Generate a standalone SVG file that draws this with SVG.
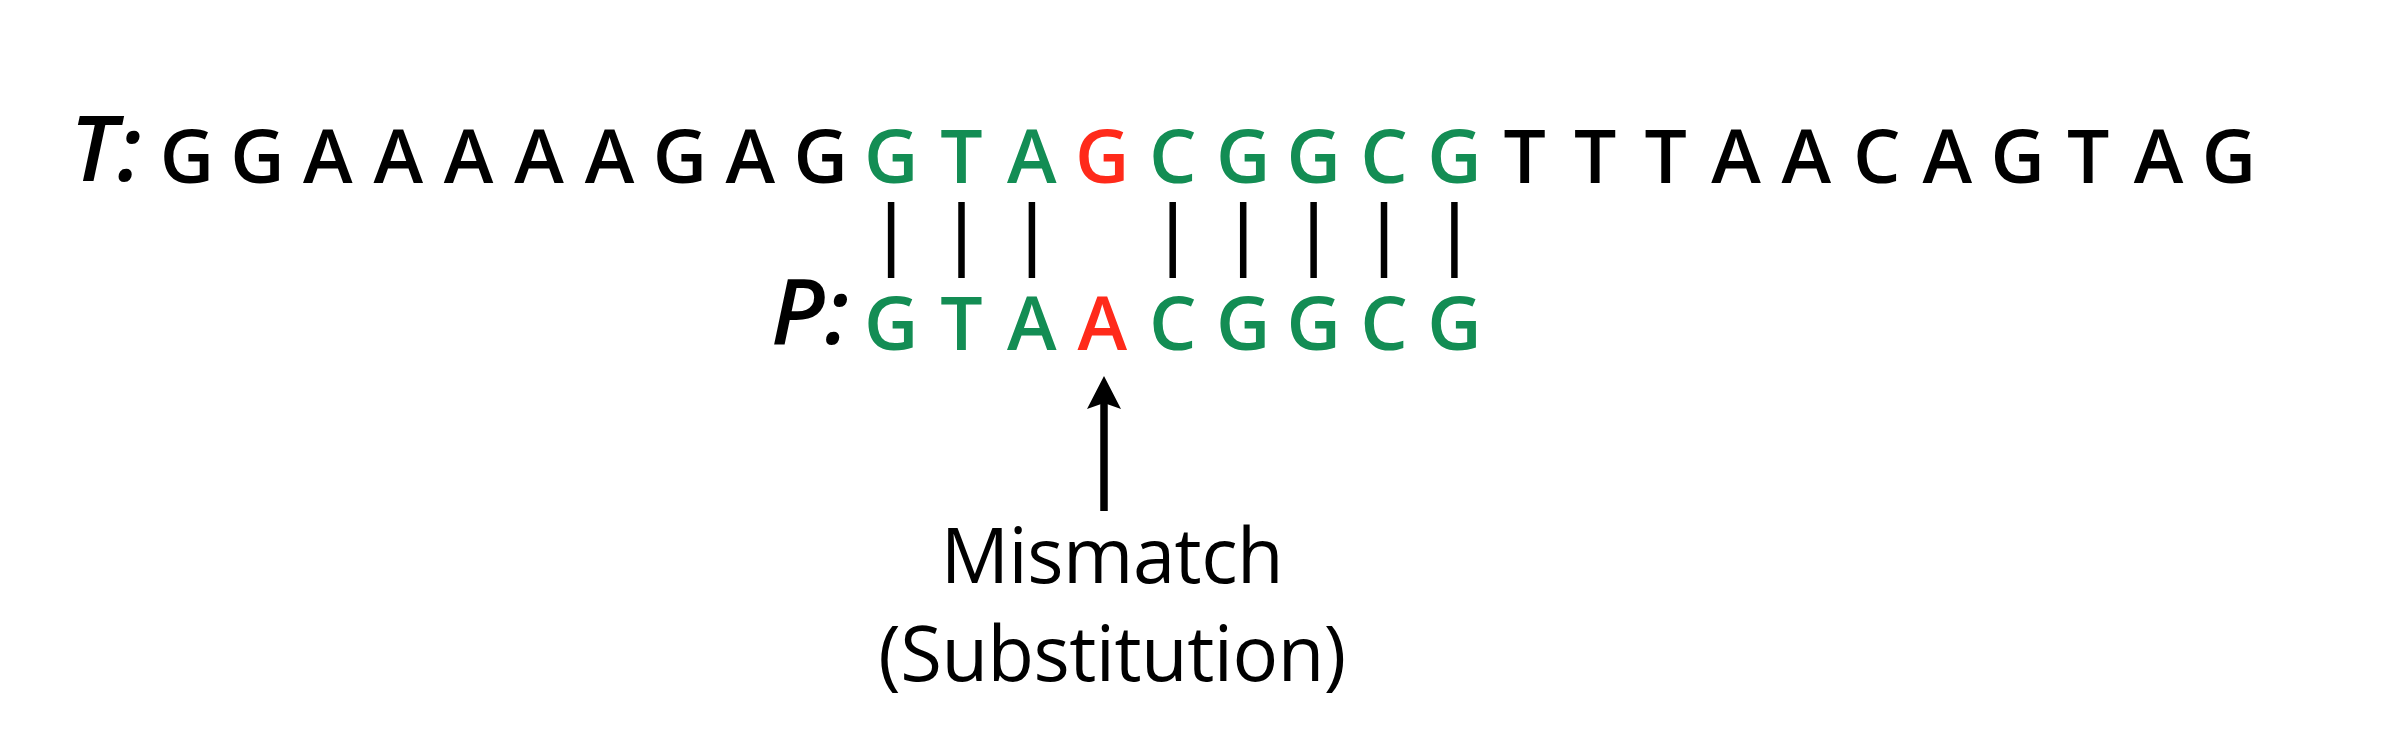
<svg xmlns="http://www.w3.org/2000/svg" width="2402" height="756" viewBox="0 0 2402 756">
<style>
.seq{font-family:"Open Sans","Liberation Sans",sans-serif;font-size:75px;font-weight:600;text-anchor:middle}
.k{fill:#000}
.g{fill:#138d54}
.r{fill:#ff2a1a}
.lbl{font-family:"Open Sans","Liberation Sans",sans-serif;font-size:91px;font-style:italic;font-weight:600;fill:#000}
.note{font-family:"Open Sans","Liberation Sans",sans-serif;font-size:76px;letter-spacing:-0.5px;text-anchor:middle;fill:#000}
.bar{stroke:#000;stroke-width:6.5}
</style>
<defs>
<marker id="ah" markerUnits="userSpaceOnUse" markerWidth="34" markerHeight="34" viewBox="0 0 34 34" refX="9" refY="17" orient="auto">
<path d="M0,0 L33,17 L0,34 L6,17 Z" fill="#000"/>
</marker>
</defs>
<rect width="2402" height="756" fill="#fff"/>
<g id="text-T">
<text class="lbl" x="70" y="181">T:</text>
<g class="seq">
<text class="k" x="187" y="183">G</text>
<text class="k" x="257.4" y="183">G</text>
<text class="k" x="327.8" y="183">A</text>
<text class="k" x="398.2" y="183">A</text>
<text class="k" x="468.6" y="183">A</text>
<text class="k" x="539.1" y="183">A</text>
<text class="k" x="609.5" y="183">A</text>
<text class="k" x="679.9" y="183">G</text>
<text class="k" x="750.3" y="183">A</text>
<text class="k" x="820.7" y="183">G</text>
<text class="g" x="891.1" y="183">G</text>
<text class="g" x="961.5" y="183">T</text>
<text class="g" x="1031.9" y="183">A</text>
<text class="r" x="1102.3" y="183">G</text>
<text class="g" x="1172.7" y="183">C</text>
<text class="g" x="1243.2" y="183">G</text>
<text class="g" x="1313.6" y="183">G</text>
<text class="g" x="1384" y="183">C</text>
<text class="g" x="1454.4" y="183">G</text>
<text class="k" x="1524.8" y="183">T</text>
<text class="k" x="1595.2" y="183">T</text>
<text class="k" x="1665.6" y="183">T</text>
<text class="k" x="1736" y="183">A</text>
<text class="k" x="1806.4" y="183">A</text>
<text class="k" x="1876.8" y="183">C</text>
<text class="k" x="1947.3" y="183">A</text>
<text class="k" x="2017.7" y="183">G</text>
<text class="k" x="2088.1" y="183">T</text>
<text class="k" x="2158.5" y="183">A</text>
<text class="k" x="2228.9" y="183">G</text>
</g>
</g>
<g id="text-P">
<text class="lbl" x="771" y="344">P:</text>
<g class="seq">
<text class="g" x="891.1" y="350">G</text>
<text class="g" x="961.5" y="350">T</text>
<text class="g" x="1031.9" y="350">A</text>
<text class="r" x="1102.3" y="350">A</text>
<text class="g" x="1172.7" y="350">C</text>
<text class="g" x="1243.2" y="350">G</text>
<text class="g" x="1313.6" y="350">G</text>
<text class="g" x="1384" y="350">C</text>
<text class="g" x="1454.4" y="350">G</text>
</g>
</g>
<g id="label-mismatch">
<text class="note" x="1112" y="583">Mismatch</text>
<text class="note" x="1112" y="681">(Substitution)</text>
</g>
<g id="connectors">
<line class="bar" x1="891.1" y1="202" x2="891.1" y2="278"/>
<line class="bar" x1="961.5" y1="202" x2="961.5" y2="278"/>
<line class="bar" x1="1031.9" y1="202" x2="1031.9" y2="278"/>
<line class="bar" x1="1172.7" y1="202" x2="1172.7" y2="278"/>
<line class="bar" x1="1243.2" y1="202" x2="1243.2" y2="278"/>
<line class="bar" x1="1313.6" y1="202" x2="1313.6" y2="278"/>
<line class="bar" x1="1384" y1="202" x2="1384" y2="278"/>
<line class="bar" x1="1454.4" y1="202" x2="1454.4" y2="278"/>
<line x1="1104" y1="511" x2="1104" y2="400" stroke="#000" stroke-width="7.5" marker-end="url(#ah)"/>
</g>
</svg>
